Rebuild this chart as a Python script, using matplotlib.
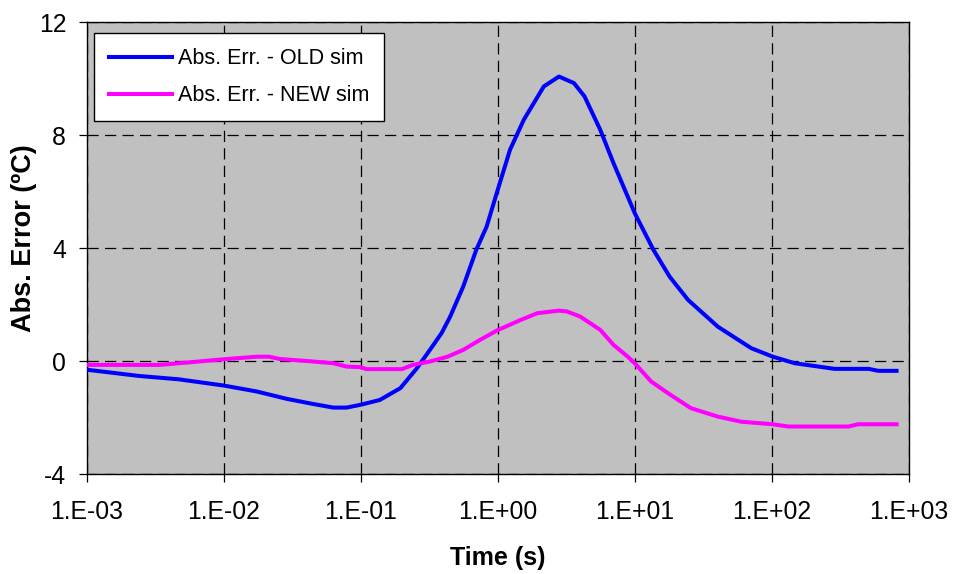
import matplotlib
matplotlib.use("Agg")
import matplotlib.pyplot as plt
from matplotlib.ticker import FixedLocator, FixedFormatter, NullLocator

plt.rcParams['font.family'] = ['Liberation Sans', 'DejaVu Sans']

# Data
old_t = [0.001, 0.0024, 0.0047, 0.01, 0.0174, 0.0288, 0.0447, 0.063, 0.079, 0.1,
         0.138, 0.195, 0.257, 0.32, 0.39, 0.45, 0.56, 0.70, 0.83, 1.0,
         1.23, 1.55, 2.17, 2.8, 3.6, 4.3, 5.6, 7.0, 10.0, 13.7,
         18.0, 24.5, 40.5, 71.0, 102.0, 147.0, 288.0, 510.0, 600.0, 815.0]
old_err = [-0.30, -0.52, -0.64, -0.86, -1.07, -1.33, -1.51, -1.64, -1.64, -1.54,
           -1.37, -0.95, -0.25, 0.40, 1.00, 1.58, 2.64, 3.96, 4.76, 6.06,
           7.48, 8.54, 9.72, 10.07, 9.84, 9.37, 8.19, 7.01, 5.24, 3.94,
           2.99, 2.17, 1.22, 0.46, 0.16, -0.07, -0.27, -0.27, -0.34, -0.34]

new_t = [0.001, 0.0034, 0.0056, 0.01, 0.0174, 0.0214, 0.0256, 0.040, 0.063, 0.079,
         0.1, 0.11, 0.2, 0.24, 0.32, 0.43, 0.56, 0.74, 1.0, 1.47,
         1.95, 2.8, 3.2, 4.0, 5.6, 7.0, 8.9, 10.0, 13.2, 17.5,
         25.7, 40.5, 60.0, 102.0, 132.0, 363.0, 427.0, 815.0]
new_err = [-0.13, -0.13, -0.04, 0.07, 0.16, 0.16, 0.08, 0.01, -0.07, -0.19,
           -0.21, -0.28, -0.28, -0.13, -0.01, 0.16, 0.40, 0.75, 1.10, 1.46,
           1.70, 1.79, 1.76, 1.58, 1.11, 0.58, 0.16, -0.07, -0.72, -1.13,
           -1.66, -1.96, -2.14, -2.23, -2.31, -2.31, -2.23, -2.23]

x_ticks = [1e-3, 1e-2, 1e-1, 1e0, 1e1, 1e2, 1e3]
x_labels = ['1.E-03', '1.E-02', '1.E-01', '1.E+00', '1.E+01', '1.E+02', '1.E+03']
y_ticks = [-4, 0, 4, 8, 12]

fig = plt.figure(figsize=(9.54, 5.74), dpi=100)
ax = fig.add_axes([86.7 / 954, 1 - 474.3 / 574, 822 / 954, 452.3 / 574])
ax.set_facecolor('#C0C0C0')

ax.plot(old_t, old_err, color='#0000FF', lw=2.9, label='Abs. Err. - OLD sim', zorder=3)
ax.plot(new_t, new_err, color='#FF00FF', lw=2.9, label='Abs. Err. - NEW sim', zorder=3)

ax.set_xscale('log')
ax.set_xlim(1e-3, 1e3)
ax.set_ylim(-4, 12)
ax.xaxis.set_major_locator(FixedLocator(x_ticks))
ax.xaxis.set_major_formatter(FixedFormatter(x_labels))
ax.xaxis.set_minor_locator(NullLocator())
ax.set_yticks(y_ticks)
ax.set_yticklabels([str(v) for v in y_ticks])

ax.grid(True, color='black', linestyle=(0, (9, 5)), linewidth=0.9)
ax.set_axisbelow(True)
ax.tick_params(axis='both', direction='out', length=5.8, width=0.9, labelsize=17.8,
               colors='black', top=False, right=False)
ax.tick_params(axis='x', pad=12.5)
ax.tick_params(axis='y', pad=9)
for s in ax.spines.values():
    s.set_color('black')
    s.set_linewidth(1.0)

ax.set_xlabel('Time (s)', fontsize=18, fontweight='bold', labelpad=16)
ax.set_ylabel('Abs. Error (ºC)', fontsize=19.5, fontweight='bold')
ax.yaxis.set_label_coords(-0.0605, 0.5224)

leg = ax.legend(loc='upper left', bbox_to_anchor=(0.0089, 0.9757), fontsize=15.5,
                frameon=True, fancybox=False, shadow=False, handlelength=2.9,
                handletextpad=0.3, borderpad=0.7, labelspacing=0.75,
                borderaxespad=0.0)
leg.get_frame().set_edgecolor('black')
leg.get_frame().set_linewidth(1.0)
leg.get_frame().set_facecolor('white')
leg.get_frame().set_alpha(1.0)

fig.savefig('out.png', dpi=100)
